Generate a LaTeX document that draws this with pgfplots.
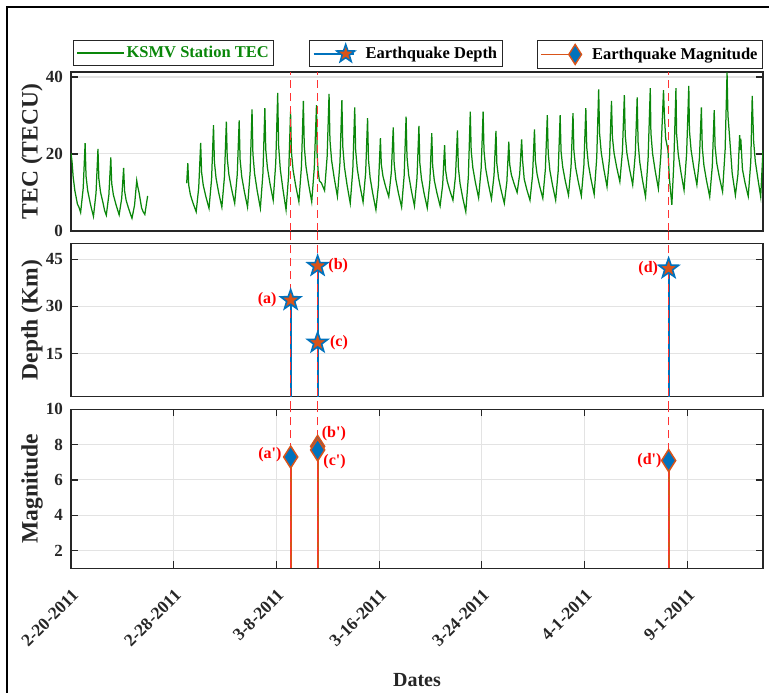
\documentclass[border=0pt]{standalone}
\usepackage{fontspec}
\setmainfont{Liberation Serif}
\newfontfamily\lblfont{Liberation Serif}
\usepackage{pgfplots}
\pgfplotsset{compat=1.18}
\usetikzlibrary{plotmarks}

\definecolor{mblue}{RGB}{0,114,189}
\definecolor{morange}{RGB}{217,83,25}
\definecolor{tecgreen}{RGB}{10,135,10}
\definecolor{axgray}{RGB}{38,38,38}
\definecolor{dashred}{RGB}{255,50,50}

\pgfdeclareplotmark{pent}{%
  \pgfpathmoveto{\pgfpointpolar{90}{\pgfplotmarksize}}%
  \pgfpathlineto{\pgfpointpolar{126}{0.40\pgfplotmarksize}}%
  \pgfpathlineto{\pgfpointpolar{162}{\pgfplotmarksize}}%
  \pgfpathlineto{\pgfpointpolar{198}{0.40\pgfplotmarksize}}%
  \pgfpathlineto{\pgfpointpolar{234}{\pgfplotmarksize}}%
  \pgfpathlineto{\pgfpointpolar{270}{0.40\pgfplotmarksize}}%
  \pgfpathlineto{\pgfpointpolar{306}{\pgfplotmarksize}}%
  \pgfpathlineto{\pgfpointpolar{342}{0.40\pgfplotmarksize}}%
  \pgfpathlineto{\pgfpointpolar{18}{\pgfplotmarksize}}%
  \pgfpathlineto{\pgfpointpolar{54}{0.40\pgfplotmarksize}}%
  \pgfpathclose
  \pgfusepathqfillstroke
}

\tikzset{
  lbl/.style={text=red, font=\lblfont\fontsize{16}{16}\selectfont\bfseries, inner sep=0pt},
  evdash/.style={dashred, line width=1.4pt, dash pattern=on 8pt off 5pt},
}

\pgfplotsset{
  panel/.style={
    scale only axis, width=692pt, xmin=0, xmax=53.9,
    /pgf/number format/assume math mode=true,
    axis line style={draw=axgray, line width=1.1pt},
    tick style={draw=axgray, line width=1.1pt},
    major tick length=7pt,
    ymajorgrids,
    grid style={draw=gray!22, line width=1pt},
    ytick pos=both, yticklabel pos=left,
    yticklabel style={font=\fontsize{17}{17}\selectfont\bfseries, text=axgray, inner sep=0pt, xshift=-8pt},
    ylabel style={font=\fontsize{23.5}{23.5}\selectfont\bfseries, text=axgray, at={(axis description cs:-0.0564,0.5)}, anchor=center},
    legend style={font=\fontsize{16.5}{16.5}\selectfont\bfseries, draw=axgray, line width=0.9pt, fill=white, inner xsep=3pt, inner ysep=4pt},
    legend cell align=left,
  },
}

\begin{document}
\begin{tikzpicture}[x=1pt,y=1pt]

\draw[line width=2pt, black] (7,-10) -- (7,686) -- (790,686);

% ---------------- TEC panel ----------------
\begin{axis}[panel, at={(71pt,462pt)}, anchor=south west, height=159pt,
  ymin=0, ymax=41.3, ytick={0,20,40}, xtick=\empty,
  ylabel={TEC (TECU)},
  legend style={at={(axis description cs:0.0029,1.2013)}, anchor=north west, text=tecgreen},
  legend image code/.code={\draw[#1] (0pt,0pt) -- (47pt,0pt);},
]
\addlegendimage{tecgreen, line width=1.2pt}
\addlegendentry{KSMV Station TEC}
\addplot[tecgreen, line width=1.25pt] table {
x y
0.00 20.2
0.08 18.0
0.17 14.0
0.30 10.5
0.50 7.0
0.62 6.2
0.75 4.8
0.95 11.1
1.10 22.8
1.17 14.3
1.30 10.5
1.50 7.2
1.62 5.5
1.75 3.8
1.95 9.9
2.10 21.3
2.17 13.6
2.30 10.1
2.50 7.2
2.62 5.3
2.75 4.1
2.95 9.4
3.10 19.1
3.17 12.4
3.30 9.4
3.50 6.9
3.62 5.6
3.75 4.2
3.95 8.5
4.10 16.4
4.17 10.5
4.30 7.9
4.50 5.7
4.62 4.5
4.75 3.3
4.95 6.7
5.12 13.1
5.20 11.5
5.30 10.0
5.50 6.0
5.62 5.0
5.75 4.3
5.97 9.1
};
\addplot[tecgreen, line width=1.25pt] table {
x y
9.01 12.4
9.10 17.6
9.17 11.9
9.30 9.4
9.50 7.3
9.75 5.0
9.95 11.3
10.10 22.9
10.17 15.3
10.30 11.9
10.50 9.0
10.75 5.9
10.95 13.5
11.10 27.5
11.17 17.9
11.30 13.7
11.50 10.0
11.75 6.2
11.95 14.0
12.10 28.4
12.17 18.9
12.30 14.6
12.50 11.0
12.75 7.2
12.95 14.7
13.10 28.7
13.17 18.6
13.30 14.1
13.50 10.3
13.75 6.2
13.95 15.1
14.10 31.6
14.17 20.0
14.30 14.9
14.50 10.5
14.75 5.9
14.95 15.0
15.10 31.9
15.17 21.1
15.30 16.4
15.50 12.3
15.75 8.0
15.95 17.8
16.10 35.9
16.17 22.2
16.30 16.1
16.50 11.0
16.75 5.5
16.95 14.4
17.10 31.0
17.17 20.5
17.30 15.8
17.50 11.8
17.75 7.6
17.95 16.8
18.10 33.8
18.17 22.0
18.30 16.8
18.50 12.3
18.75 7.6
18.95 16.4
19.12 32.7
19.17 20.0
19.25 15.5
19.35 13.0
19.50 12.5
19.75 10.5
19.95 19.3
20.10 35.6
20.17 23.6
20.30 18.3
20.50 13.8
20.75 9.0
20.95 17.8
21.10 34.0
21.17 21.9
21.30 16.6
21.50 12.0
21.75 7.2
21.95 15.9
22.10 32.1
22.17 21.0
22.30 16.1
22.50 11.9
22.75 7.5
22.95 15.1
23.10 29.3
23.17 18.6
23.30 13.8
23.50 9.8
23.75 5.5
23.95 12.0
24.10 24.1
24.17 17.3
24.30 14.2
24.50 11.6
24.75 8.9
24.95 15.2
25.10 26.9
25.17 17.6
25.30 13.4
25.50 9.9
25.75 6.2
25.95 14.4
26.10 29.7
26.17 19.3
26.30 14.6
26.50 10.7
26.75 6.5
26.95 13.8
27.10 27.3
27.17 17.7
27.30 13.5
27.50 9.8
27.75 6.0
27.95 12.8
28.10 25.4
28.17 16.9
28.30 13.1
28.50 9.9
28.75 6.5
28.95 12.0
29.10 22.3
29.17 15.9
29.30 13.0
29.50 10.6
29.75 8.0
29.95 14.3
30.10 26.1
30.17 16.6
30.30 12.4
30.50 8.8
30.75 5.0
30.95 14.1
31.10 31.0
31.17 20.9
31.30 16.4
31.50 12.6
31.75 8.6
31.95 16.4
32.10 31.0
32.17 20.8
32.30 16.2
32.50 12.4
32.75 8.3
32.95 14.5
33.10 26.0
33.17 17.5
33.30 13.8
33.50 10.6
33.75 7.2
33.95 12.8
34.10 23.2
34.17 17.3
34.30 14.6
34.50 12.4
34.75 10.0
34.95 14.8
35.10 23.8
35.17 18.5
35.30 13.5
35.50 10.8
35.75 8.0
35.95 14.4
36.10 26.4
36.17 18.3
36.30 14.8
36.50 11.7
36.75 8.5
36.95 16.1
37.10 30.1
37.17 20.2
37.30 15.7
37.50 12.0
37.75 8.0
37.95 15.7
38.10 30.1
38.17 20.7
38.30 16.6
38.50 13.0
38.75 9.3
38.95 16.8
39.10 30.6
39.17 20.9
39.30 16.6
39.50 13.0
39.75 9.1
39.95 17.1
40.10 31.9
40.17 21.8
40.30 17.3
40.50 13.5
40.75 9.5
40.95 19.1
41.10 36.8
41.17 25.4
41.30 20.4
41.50 16.1
41.75 11.5
41.95 19.3
42.10 33.8
42.17 24.4
42.30 20.2
42.50 16.6
42.75 12.8
42.95 20.7
43.10 35.3
43.17 24.8
43.30 20.2
43.50 16.2
43.75 12.0
43.95 19.9
44.10 34.7
44.17 23.1
44.30 17.9
44.50 13.5
44.75 8.9
44.95 18.8
45.12 37.1
45.17 25.4
45.30 20.1
45.50 15.7
45.75 11.0
45.95 20.0
46.15 36.6
46.22 30.0
46.32 24.0
46.50 21.0
46.60 14.0
46.80 6.8
46.95 17.4
47.12 37.1
47.17 25.2
47.30 19.9
47.50 15.4
47.75 10.6
47.95 20.1
48.12 37.7
48.17 26.1
48.30 21.0
48.50 16.6
48.75 12.0
48.95 19.0
49.10 32.1
49.17 21.7
49.30 17.0
49.50 13.1
49.75 8.9
49.95 16.8
50.10 31.4
50.17 21.9
50.30 17.6
50.50 14.0
50.75 10.2
50.95 21.1
51.10 41.2
51.17 30.0
51.25 26.5
51.35 22.0
51.50 15.0
51.75 9.3
51.95 14.8
52.08 24.9
52.12 21.0
52.17 24.0
52.30 16.0
52.50 12.5
52.75 9.0
52.95 18.1
53.06 35.1
53.17 23.3
53.30 18.1
53.50 13.6
53.72 8.9
53.90 21.0
};
\addplot[evdash] coordinates {(17.11,0) (17.11,41.3)};
\addplot[evdash] coordinates {(19.21,0) (19.21,41.3)};
\addplot[evdash] coordinates {(46.55,0) (46.55,41.3)};
\end{axis}

% ---------------- Depth panel ----------------
\begin{axis}[panel, at={(71pt,296.3pt)}, anchor=south west, height=153.4pt,
  ymin=1.4, ymax=50, ytick={15,30,45}, xtick=\empty, clip=false,
  ylabel={Depth (Km)},
  legend style={at={(axis description cs:0.4841,2.3253)}, anchor=north},
  legend image code/.code={\draw[mark repeat=3, mark phase=2, #1] plot coordinates {(0pt,0pt) (32pt,0pt) (40pt,0pt)}; \path (49pt,0pt);},
]
\addlegendimage{mblue, line width=1.8pt, mark=pent, mark size=9.5pt, mark options={draw=mblue, fill=morange, line width=1.5pt}}
\addlegendentry{Earthquake Depth}
\addplot[mblue, line width=2pt] coordinates {(17.11,1.4) (17.11,32)};
\addplot[mblue, line width=2pt] coordinates {(19.21,1.4) (19.21,42.8)};
\addplot[mblue, line width=2pt] coordinates {(46.55,1.4) (46.55,42)};
\addplot[evdash] coordinates {(17.11,-2.6) (17.11,53.9)};
\addplot[evdash] coordinates {(19.21,-2.6) (19.21,53.9)};
\addplot[evdash] coordinates {(46.55,-2.6) (46.55,53.9)};
\addplot[only marks, mark=pent, mark size=10.5pt, mark options={draw=mblue, fill=morange, line width=1.6pt}] coordinates {(17.11,32) (19.21,42.8) (19.21,18.5) (46.55,42)};
\node[lbl, anchor=east, xshift=-14pt] at (axis cs:17.11,32) {(a)};
\node[lbl, anchor=west, xshift=10.6pt] at (axis cs:19.21,42.8) {(b)};
\node[lbl, anchor=west, xshift=12.3pt] at (axis cs:19.21,18.5) {(c)};
\node[lbl, anchor=east, xshift=-10.4pt] at (axis cs:46.55,42) {(d)};
\end{axis}

% ---------------- Magnitude panel ----------------
\begin{axis}[panel, at={(71pt,124.7pt)}, anchor=south west, height=159pt,
  ymin=1, ymax=10, ytick={2,4,6,8,10},
  xtick={0,8,16,24,32,40,48},
  xticklabels={2-20-2011,2-28-2011,3-8-2011,3-16-2011,3-24-2011,4-1-2011,9-1-2011},
  xmajorgrids, xtick pos=both, xticklabel pos=lower,
  xticklabel style={font=\fontsize{17.5}{17.5}\selectfont\bfseries, text=axgray, rotate=45, anchor=north east, inner sep=0pt},
  xticklabel shift=20pt,
  xlabel={Dates},
  xlabel style={font=\fontsize{20}{20}\selectfont\bfseries, text=axgray, at={(axis description cs:0.5,-0.7025)}, anchor=center},
  ylabel={Magnitude},
  legend style={at={(axis description cs:1,3.3226)}, anchor=north east},
  legend image code/.code={\draw[mark repeat=3, mark phase=2, #1] plot coordinates {(0pt,0pt) (34pt,0pt) (34pt,0pt)}; \path (48pt,0pt);},
]
\addlegendimage{morange, line width=1.8pt, mark=diamond*, mark size=10pt, mark options={draw=morange, fill=mblue, line width=1.4pt, xscale=0.85}}
\addlegendentry{Earthquake Magnitude}
\addplot[morange, line width=2pt] coordinates {(17.11,1) (17.11,7.3)};
\addplot[morange, line width=2pt] coordinates {(19.21,1) (19.21,7.9)};
\addplot[morange, line width=2pt] coordinates {(46.55,1) (46.55,7.1)};
\addplot[evdash] coordinates {(17.11,1) (17.11,10)};
\addplot[evdash] coordinates {(19.21,1) (19.21,10)};
\addplot[evdash] coordinates {(46.55,1) (46.55,10)};
\addplot[only marks, mark=diamond*, mark size=11pt, mark options={draw=morange, fill=mblue, line width=1.5pt, xscale=0.85}] coordinates {(17.11,7.3) (19.21,7.9) (19.21,7.7) (46.55,7.1)};
\node[lbl, anchor=east, xshift=-9pt, yshift=2pt] at (axis cs:17.11,7.3) {(a')};
\node[lbl, anchor=west, xshift=4pt, yshift=13pt] at (axis cs:19.21,7.9) {(b')};
\node[lbl, anchor=west, xshift=5.6pt, yshift=-12pt] at (axis cs:19.21,7.7) {(c')};
\node[lbl, anchor=east, xshift=-7pt] at (axis cs:46.55,7.1) {(d')};
\end{axis}

\pgfresetboundingbox
\useasboundingbox (0,0) rectangle (769,693);
\end{tikzpicture}
\end{document}
